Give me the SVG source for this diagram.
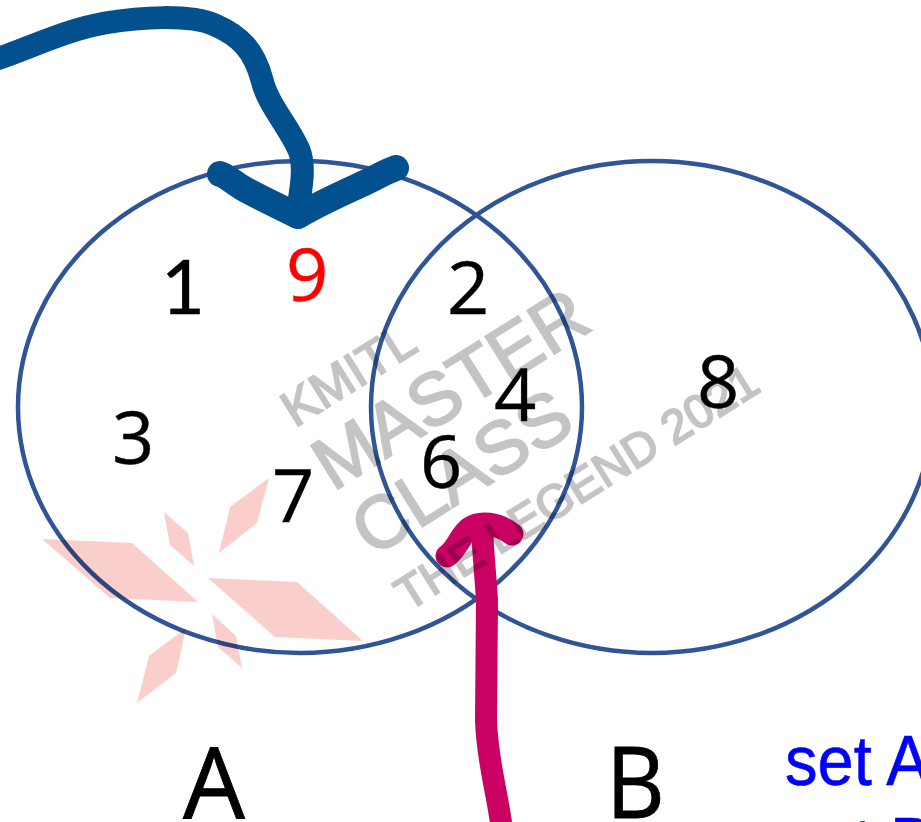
<svg xmlns="http://www.w3.org/2000/svg" width="921" height="822" viewBox="0 0 921 822">
<style>
.wm{font-family:"Liberation Sans",Arial,sans-serif;fill:#c4c4c4;stroke:#c4c4c4;stroke-width:2}
.n{font-family:"Open Sans","Noto Sans",sans-serif;font-size:74px;fill:#000;stroke:#000;stroke-width:.4}
.l{font-family:"Open Sans","Noto Sans",sans-serif;font-size:98px;fill:#000;stroke:#000;stroke-width:.8}
.st{font-family:"Liberation Sans",Arial,sans-serif;font-size:70px;fill:#00f;stroke:#00f;stroke-width:.6}
.c{fill:none;stroke:#2f5597;stroke-width:4.5}
.p{fill:#facfcb}
.s{fill:none;stroke-linecap:round;stroke-linejoin:round}
</style>
<rect width="921" height="822" fill="#fff"/>
<g id="set-a"><ellipse class="c" cx="300" cy="407" rx="282" ry="246"/></g>
<g id="set-b"><ellipse class="c" cx="652" cy="407" rx="281" ry="246"/></g>
<g id="numbers">
<text class="n" x="161" y="314" style="font-family:Lato,'Open Sans',sans-serif;font-size:76px">1</text>
<text class="n" x="286" y="301" style="fill:#f00;stroke:#f00">9</text>
<text class="n" x="447" y="314">2</text>
<text class="n" x="494" y="421">4</text>
<text class="n" x="697" y="408">8</text>
<text class="n" x="112" y="464">3</text>
<text class="n" x="420" y="488">6</text>
<text class="n" x="272" y="522">7</text>
</g>
<g id="labels">
<text class="l" x="183" y="818">A</text>
<text class="l" transform="translate(606,818) scale(.93,1)">B</text>
<text class="st" transform="translate(785,785) scale(.93,1)">set A</text>
<text class="st" transform="translate(785,867) scale(.93,1)">set B</text>
</g>
<g id="connectors">
<path class="s" stroke="#03508f" stroke-width="23" d="M-6,60 C30,48 65,30 105,23 C140,17 190,14 215,25 C240,36 254,50 262,80 C268,105 288,125 299,150 C305,165 302,185 297,214"/>
<path class="s" stroke="#03508f" stroke-width="26" d="M220,174 C228,176 235,185 250,192 C265,200 282,208 298,216 C320,203 345,192 360,185 C375,178 385,172 396,168"/>
<path class="s" stroke="#cb0063" stroke-width="22" d="M502,830 C497,790 487,760 486,720 L487,600 C485,570 482,540 482,524"/>
<path class="s" stroke="#cb0063" stroke-width="23" d="M447,556 C458,548 460,535 470,528 C480,521 498,523 512,534"/>
</g>
<g id="watermark" style="mix-blend-mode:multiply">
<polygon class="p" points="42,539 132,543 198,602 110,598"/>
<polygon class="p" points="208,578 297,582 363,641 275,637"/>
<polygon class="p" points="164,512 188,533 194,566 170,545"/>
<polygon class="p" points="212,614 236,636 242,668 218,647"/>
<polygon class="p" points="269,478 257,523 219,553 230,507"/>
<polygon class="p" points="186,628 176,673 137,703 149,656"/>
<text class="wm" font-size="50" transform="translate(295,428) rotate(-32)">KMITL</text>
<text class="wm" font-size="74" transform="translate(333,492) rotate(-32)">MASTER</text>
<text class="wm" font-size="74" transform="translate(372,558) rotate(-32)">CLASS</text>
<text class="wm" font-size="47" transform="translate(408,612) rotate(-32)">THE LEGEND 2021</text>
</g>
</svg>
